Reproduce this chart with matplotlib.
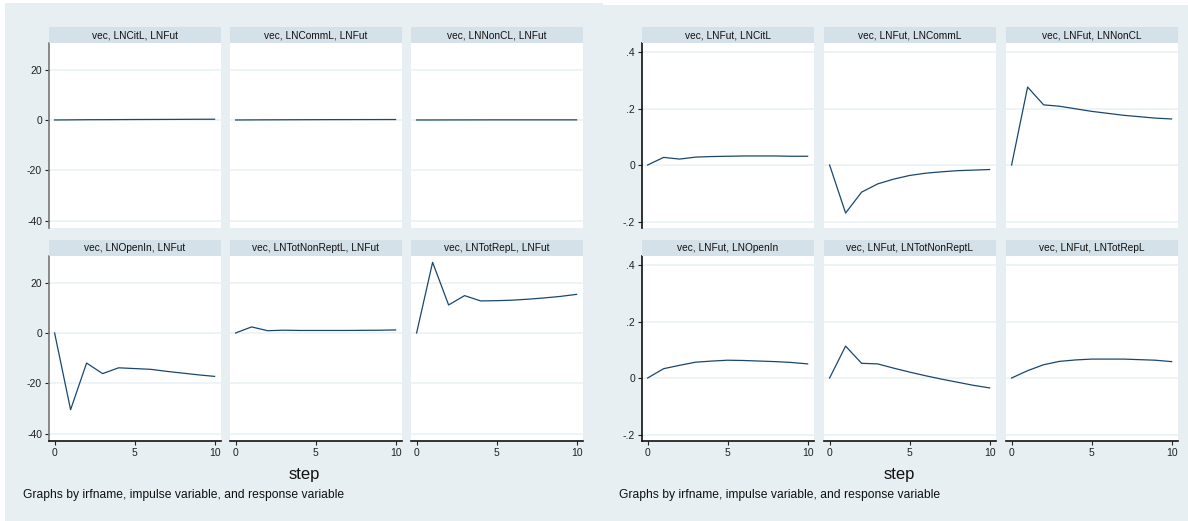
import numpy as np
import matplotlib
matplotlib.use('Agg')
import matplotlib.pyplot as plt
from matplotlib.patches import Rectangle

plt.rcParams['font.family'] = ['Liberation Sans', 'DejaVu Sans']

steps = list(range(11))

# left graph: impulse -> LNFut
left_titles = ['vec, LNCitL, LNFut', 'vec, LNCommL, LNFut', 'vec, LNNonCL, LNFut',
               'vec, LNOpenIn, LNFut', 'vec, LNTotNonReptL, LNFut', 'vec, LNTotRepL, LNFut']
citl_fut = [0, 0.05, 0.1, 0.12, 0.15, 0.18, 0.2, 0.22, 0.25, 0.28, 0.3]
comml_fut = [0, 0.03, 0.06, 0.08, 0.1, 0.12, 0.14, 0.15, 0.16, 0.17, 0.18]
noncl_fut = [0, 0.0, 0.02, 0.03, 0.04, 0.05, 0.05, 0.05, 0.05, 0.05, 0.05]
openin_fut = [0, -30.4, -11.9, -16.1, -13.8, -14.1, -14.4, -15.2, -15.9, -16.6, -17.2]
totnon_fut = [0, 2.4, 0.9, 1.1, 1.0, 1.0, 1.0, 1.0, 1.05, 1.1, 1.2]
totrep_fut = [0, 28.0, 11.1, 14.8, 12.7, 12.8, 13.0, 13.4, 13.9, 14.5, 15.3]
left_series = [citl_fut, comml_fut, noncl_fut, openin_fut, totnon_fut, totrep_fut]
left_yticks = [-40, -20, 0, 20]
left_yticklabels = ['-40', '-20', '0', '20']
left_ylim = (-42.8, 30.5)

# right graph: LNFut -> response
right_titles = ['vec, LNFut, LNCitL', 'vec, LNFut, LNCommL', 'vec, LNFut, LNNonCL',
                'vec, LNFut, LNOpenIn', 'vec, LNFut, LNTotNonReptL', 'vec, LNFut, LNTotRepL']
fut_citl = [0, 0.027, 0.021, 0.028, 0.030, 0.031, 0.032, 0.032, 0.032, 0.031, 0.031]
fut_comml = [0, -0.170, -0.096, -0.067, -0.050, -0.037, -0.029, -0.024, -0.020, -0.018, -0.016]
fut_noncl = [0, 0.276, 0.213, 0.208, 0.199, 0.190, 0.183, 0.176, 0.171, 0.166, 0.163]
fut_openin = [0, 0.033, 0.045, 0.056, 0.060, 0.063, 0.062, 0.060, 0.058, 0.055, 0.050]
fut_totnon = [0, 0.113, 0.052, 0.050, 0.035, 0.021, 0.008, -0.004, -0.015, -0.026, -0.035]
fut_totrep = [0, 0.026, 0.047, 0.059, 0.064, 0.067, 0.067, 0.067, 0.065, 0.063, 0.058]
right_series = [fut_citl, fut_comml, fut_noncl, fut_openin, fut_totnon, fut_totrep]
right_yticks = [-0.2, 0, 0.2, 0.4]
right_yticklabels = ['-.2', '0', '.2', '.4']
right_ylim = (-0.223, 0.432)

xticks = [0, 5, 10]
xticklabels = ['0', '5', '10']

W, H = 1188, 521
fig = plt.figure(figsize=(W / 100, H / 100), dpi=100)
fig.patch.set_facecolor('white')

BG = '#e8eff2'
STRIP = '#d5e1e8'
LINE = '#1a476f'
GRID = '#eaf2f3'


def px_axes(x0, y0, x1, y1):
    # pixel box (top-left origin) -> figure axes
    return fig.add_axes([x0 / W, 1 - y1 / H, (x1 - x0) / W, (y1 - y0) / H])


def draw_graph(gx0, gy0, gx1, gy1, col_x, titles, series, yticks, ylabels, ylim, yaxis_color):
    fig.add_artist(Rectangle((gx0 / W, 1 - gy1 / H), (gx1 - gx0) / W, (gy1 - gy0) / H,
                             transform=fig.transFigure, facecolor=BG, edgecolor='none', zorder=0))
    rows = [(27, 43, 228), (240, 256, 441)]
    for i in range(6):
        r, c = divmod(i, 3)
        sy0, py0, py1 = rows[r]
        x0 = col_x[c]
        x1 = x0 + 172
        # strip
        fig.add_artist(Rectangle((x0 / W, 1 - py0 / H), (x1 - x0) / W, (py0 - sy0) / H,
                                 transform=fig.transFigure, facecolor=STRIP, edgecolor='none', zorder=1))
        fig.text((x0 + x1) / 2 / W, 1 - (sy0 + py0) / 2 / H, titles[i], ha='center', va='center',
                 fontsize=7.3, color='#111111')
        ax = px_axes(x0, py0, x1, py1)
        ax.set_facecolor('white')
        ax.plot(steps, series[i], color=LINE, lw=0.9)
        ax.set_xlim(-0.35, 10.4)
        ax.set_ylim(*ylim)
        ax.set_yticks(yticks)
        ax.set_xticks(xticks)
        for t in yticks:
            ax.axhline(t, color=GRID, lw=1.2, zorder=0)
        for s in ax.spines.values():
            s.set_visible(False)
        ax.tick_params(length=3, width=0.8, labelsize=7.5, colors='#222222', pad=2)
        if c == 0:
            ax.spines['left'].set_visible(True)
            ax.spines['left'].set_color(yaxis_color)
            ax.spines['left'].set_linewidth(1.2)
            ax.set_yticklabels(ylabels)
        else:
            ax.tick_params(axis='y', left=False, labelleft=False)
        if r == 1:
            ax.spines['bottom'].set_visible(True)
            ax.spines['bottom'].set_color('#111111')
            ax.spines['bottom'].set_linewidth(1.2)
            ax.set_xticklabels(xticklabels)
        else:
            ax.tick_params(axis='x', bottom=False, labelbottom=False)


draw_graph(5, 3, 603, 521, [49, 230, 411], left_titles, left_series,
           left_yticks, left_yticklabels, left_ylim, '#777777')
draw_graph(603, 5, 1188, 521, [642, 824, 1006], right_titles, right_series,
           right_yticks, right_yticklabels, right_ylim, '#111111')

for cx in [304, 899]:
    fig.text(cx / W, 1 - 475 / H, 'step', ha='center', va='center', fontsize=12, color='#111111')
for lx in [23, 619]:
    fig.text(lx / W, 1 - 495 / H, 'Graphs by irfname, impulse variable, and response variable',
             ha='left', va='center', fontsize=8.7, color='#111111')

fig.savefig('out.png', dpi=100)
